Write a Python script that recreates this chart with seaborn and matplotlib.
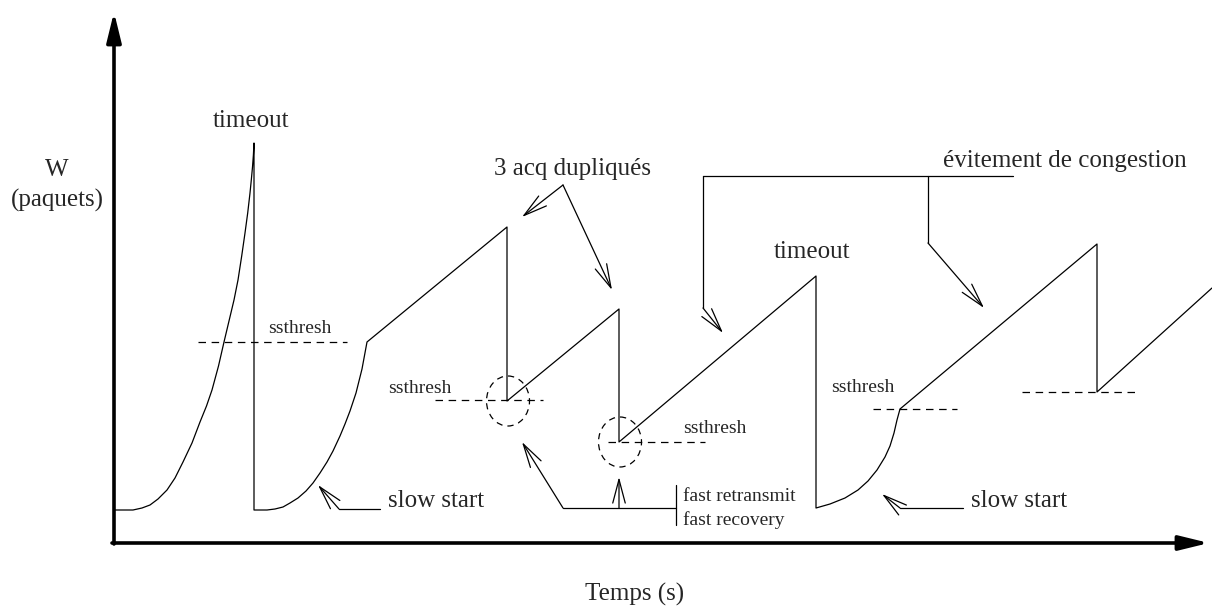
import matplotlib
matplotlib.use("Agg")
import matplotlib.pyplot as plt
from matplotlib.patches import Ellipse
import pandas as pd
import seaborn as sns

# Congestion window trace: time position and window height (drawing units, y grows downward)
time_pts = [114, 122, 133, 142, 150, 158, 167, 175, 183, 192,
            200, 206.5, 212, 218.5, 224, 229, 234, 238, 241.7, 245, 247.7, 250,
            251.3, 252.5, 253.4, 254,
            254, 267, 275, 283, 290, 298, 306, 313, 320, 327, 333, 340, 345, 350,
            356, 362, 367,
            507, 507, 619, 619, 816,
            816, 830, 845, 858, 868, 877, 885, 890, 894, 897, 900,
            1097, 1097, 1212]
window_pts = [510, 510, 510, 508, 505, 499, 490, 478, 462, 443,
              422, 406, 390, 366, 342, 321, 300, 280, 256, 233, 213, 193,
              180, 167, 155, 143,
              510, 510, 509, 507, 503, 498, 491, 483, 473, 462, 451, 436, 424, 411,
              393, 369, 342,
              227, 401, 309, 442, 276,
              508, 504, 498, 490, 481, 470, 457, 446, 433, 420, 409,
              244, 392, 288]

# ssthresh levels and the time span over which each is shown
ssthresh_level = [342, 400, 442, 409, 392]
ssthresh_start = [198, 435, 608, 873, 1022]
ssthresh_end = [347, 543, 705, 957, 1140]

# duplicate-ACK loss points (fast retransmit / fast recovery)
loss_t = [508, 620]
loss_w = [401, 442]

sns.set_theme(style="white")
plt.rcParams["font.family"] = ["Liberation Serif", "DejaVu Serif"]

fig = plt.figure(figsize=(12.12, 6.08), dpi=100)
ax = fig.add_axes([0, 0, 1, 1])

df = pd.DataFrame({"t": time_pts, "w": window_pts})
sns.lineplot(data=df, x="t", y="w", sort=False, estimator=None,
             color="black", linewidth=0.9, ax=ax)

ax.hlines(ssthresh_level, ssthresh_start, ssthresh_end, colors="black",
          linewidth=0.9, linestyles=(0, (6, 4.5)))

for cx, cy in zip(loss_t, loss_w):
    ax.add_patch(Ellipse((cx, cy), 43, 50, fill=False, edgecolor="black",
                         linewidth=0.9, linestyle=(0, (5, 4))))

ax.set_xlim(0, 1212)
ax.set_ylim(608, 0)
ax.axis("off")

# main axes with filled arrowheads
axis_arrow = dict(arrowstyle="-|>,head_length=0.9,head_width=0.22",
                  lw=2.6, color="black", mutation_scale=20,
                  shrinkA=0, shrinkB=0)
ax.annotate("", xy=(114, 12), xytext=(114, 544), arrowprops=axis_arrow)
ax.annotate("", xy=(1209, 543), xytext=(112, 543), arrowprops=axis_arrow)

# pointer helpers
pointer = dict(arrowstyle="->,head_length=1.7,head_width=0.45",
               lw=0.9, color="black", mutation_scale=10,
               shrinkA=0, shrinkB=0)


def leader(xs, ys):
    """Polyline whose last segment ends in an open arrowhead."""
    if len(xs) > 2:
        ax.plot(xs[:-1], ys[:-1], color="black", lw=0.9,
                solid_joinstyle="miter")
    ax.annotate("", xy=(xs[-1], ys[-1]), xytext=(xs[-2], ys[-2]),
                arrowprops=pointer)


big = 18
small = 14

ax.text(57, 176, "W", fontsize=big, ha="center", va="baseline")
ax.text(57, 207, "(paquets)", fontsize=big, ha="center", va="baseline")
ax.text(635, 601, "Temps (s)", fontsize=big, ha="center", va="baseline")

ax.text(251, 127, "timeout", fontsize=big, ha="center", va="baseline")
ax.text(812, 258, "timeout", fontsize=big, ha="center", va="baseline")

ax.text(572, 175, "3 acq dupliqués", fontsize=big, ha="center", va="baseline")
leader([563, 522], [185, 217])
leader([563, 612], [185, 290])

ax.text(943, 167, "évitement de congestion", fontsize=big, ha="left",
        va="baseline")
ax.plot([1013, 703], [176, 176], color="black", lw=0.9)
leader([703, 703, 723], [176, 308, 333])
leader([928, 928, 984], [176, 243, 308])

ax.text(268, 333, "ssthresh", fontsize=small, ha="left", va="baseline")
ax.text(388, 393, "ssthresh", fontsize=small, ha="left", va="baseline")
ax.text(683, 433, "ssthresh", fontsize=small, ha="left", va="baseline")
ax.text(831, 392, "ssthresh", fontsize=small, ha="left", va="baseline")

ax.text(388, 507, "slow start", fontsize=big, ha="left", va="baseline")
leader([380, 339, 318], [509, 509, 485])
ax.text(971, 507, "slow start", fontsize=big, ha="left", va="baseline")
leader([963, 900, 882], [508, 508, 494])

ax.plot([676, 676], [485, 525], color="black", lw=0.9)
leader([676, 563, 522], [508, 508, 442])
leader([619, 619], [508, 477])
ax.text(683, 501, "fast retransmit", fontsize=small, ha="left", va="baseline")
ax.text(683, 525, "fast recovery", fontsize=small, ha="left", va="baseline")

fig.savefig("out.png", dpi=100, facecolor="white")
